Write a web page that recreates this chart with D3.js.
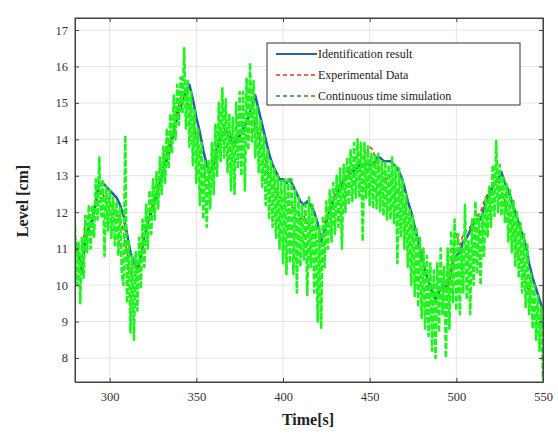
<!DOCTYPE html>
<html lang="en">
<head>
    <meta charset="UTF-8">
    <title>Level identification</title>
    <script src="https://d3js.org/d3.v7.min.js"></script>
    <style>
        body { margin: 0; background: #fff; }
        svg text { font-family: "Liberation Serif", "DejaVu Serif", serif; }
    </style>
</head>
<body>
    <div id="chart"></div>
    <script>
        // continuous time simulation, one sample per second from 280 s to 550 s
        const greenStart = 280;
        const greenLevel = [
            11.6, 10.0, 11.2, 9.5, 11.3, 10.2, 11.9, 10.9, 12.2, 11.0,
            12.2, 11.3, 12.9, 11.8, 13.5, 11.9, 12.9, 10.8, 12.7, 11.5,
            12.6, 11.3, 12.4, 11.1, 12.3, 10.8, 12.1, 10.3, 10.0, 14.1,
            9.5, 11.2, 8.7, 10.8, 8.5, 10.9, 9.3, 11.3, 9.9, 11.8,
            10.5, 12.2, 11.0, 12.6, 11.4, 12.9, 11.8, 13.1, 12.1, 13.5,
            12.5, 13.8, 12.8, 14.3, 13.2, 14.7, 13.6, 15.2, 14.0, 15.5,
            14.4, 15.7, 14.7, 16.5, 14.3, 15.6, 13.8, 15.3, 13.3, 14.8,
            12.8, 14.3, 12.2, 13.9, 11.8, 13.4, 11.6, 13.4, 12.1, 13.9,
            12.5, 14.4, 13.0, 15.0, 13.4, 15.4, 13.5, 15.1, 13.1, 14.7,
            12.6, 14.6, 12.5, 15.0, 13.2, 15.3, 13.0, 15.3, 12.6, 15.7,
            13.7, 16.1, 13.9, 15.6, 13.5, 14.9, 13.1, 14.5, 12.7, 14.1,
            12.2, 13.7, 11.8, 13.4, 11.6, 13.2, 11.3, 13.0, 11.0, 12.9,
            10.6, 12.9, 10.3, 12.9, 10.6, 12.9, 10.3, 12.6, 9.8, 12.4,
            10.5, 12.2, 10.7, 12.2, 9.7, 12.4, 10.5, 12.2, 9.8, 11.9,
            9.0, 11.6, 8.8, 11.9, 10.5, 12.3, 11.0, 12.6, 11.2, 12.8,
            11.4, 13.0, 11.6, 13.2, 11.0, 13.3, 12.0, 13.5, 12.2, 13.7,
            12.3, 13.9, 12.4, 14.0, 12.4, 13.9, 11.2, 13.9, 12.4, 13.8,
            12.2, 13.6, 12.1, 13.6, 12.1, 13.6, 12.0, 13.4, 11.9, 13.4,
            11.8, 13.3, 11.8, 13.5, 11.7, 13.3, 10.6, 13.2, 11.3, 12.9,
            11.0, 12.5, 10.5, 12.1, 10.0, 11.9, 9.7, 11.6, 9.4, 11.3,
            9.1, 11.0, 8.8, 10.8, 8.6, 10.6, 8.2, 10.4, 8.0, 10.6,
            8.7, 11.0, 9.2, 10.5, 8.0, 11.0, 8.8, 11.5, 9.5, 11.8,
            9.3, 11.4, 9.2, 11.0, 9.8, 12.2, 9.6, 11.2, 9.2, 11.8,
            10.0, 12.3, 10.3, 11.9, 10.0, 12.0, 10.8, 12.4, 11.3, 12.7,
            11.6, 13.3, 11.9, 13.95, 12.0, 13.3, 11.9, 13.0, 11.7, 12.8,
            11.2, 12.6, 10.9, 12.3, 10.5, 12.0, 10.2, 11.7, 9.8, 11.4,
            9.4, 11.1, 9.2, 10.3, 8.8, 10.0, 8.5, 9.7, 8.2, 9.4,
            7.4
        ];

        // identification result and experimental data, one sample every 2 s
        const sampleStart = 280;
        const sampleStep = 2;
        const identLevel = [
            11.2, 10.8, 10.4, 11.2, 11.6, 11.8, 12.3, 12.8, 12.8, 12.7,
            12.6, 12.5, 12.4, 12.2, 11.9, 11.4, 10.9, 10.6, 10.4, 10.8,
            11.3, 11.7, 12.0, 12.3, 12.6, 13.0, 13.3, 13.6, 14.0, 14.4,
            14.8, 15.0, 15.3, 15.5, 15.1, 14.6, 14.2, 13.7, 13.3, 13.1,
            13.3, 13.7, 14.0, 14.2, 14.2, 14.0, 13.9, 14.0, 14.2, 14.4,
            14.6, 14.9, 15.2, 14.8, 14.4, 14.0, 13.6, 13.3, 13.1, 12.9,
            12.9, 12.8, 12.9, 12.7, 12.5, 12.3, 12.2, 12.3, 12.2, 12.0,
            11.7, 11.2, 11.5, 11.9, 12.2, 12.4, 12.6, 12.8, 12.9, 13.0,
            13.1, 13.2, 13.3, 13.3, 13.3, 13.3, 13.3, 13.5, 13.5, 13.4,
            13.4, 13.4, 13.3, 13.2, 13.0, 12.7, 12.3, 12.0, 11.6, 11.2,
            10.8, 10.4, 10.1, 9.8, 9.6, 9.8, 10.0, 9.9, 10.2, 10.6,
            10.8, 10.9, 11.2, 11.3, 11.5, 11.7, 11.8, 11.8, 12.1, 12.4,
            12.6, 12.8, 12.9, 13.1, 12.8, 12.6, 12.3, 12.0, 11.7, 11.4,
            11.1, 10.6, 10.2, 9.9, 9.6, 9.3
        ];
        const expLevel = [
            11.0, 10.9, 10.6, 11.9, 11.8, 11.9, 12.2, 12.6, 12.5, 12.3,
            12.2, 12.2, 11.9, 11.9, 11.4, 10.9, 10.3, 10.2, 10.4, 10.9,
            11.4, 11.8, 12.1, 12.4, 12.8, 13.1, 13.5, 13.8, 14.2, 14.6,
            15.0, 15.3, 15.1, 14.9, 14.5, 14.1, 13.7, 13.2, 12.9, 13.1,
            13.5, 13.9, 14.2, 14.3, 14.0, 13.7, 13.8, 14.1, 14.0, 14.3,
            14.1, 14.0, 14.5, 14.1, 13.8, 13.4, 13.0, 12.8, 12.6, 12.4,
            12.3, 12.4, 12.2, 12.1, 12.0, 11.8, 11.9, 11.7, 11.6, 11.3,
            11.2, 11.3, 11.7, 12.0, 12.3, 12.5, 12.7, 12.9, 13.0, 13.1,
            13.2, 13.3, 13.4, 13.5, 13.6, 13.8, 13.7, 13.3, 13.2, 13.0,
            12.9, 12.9, 12.7, 12.6, 12.4, 12.1, 11.9, 11.6, 11.3, 11.0,
            10.7, 10.3, 10.0, 9.7, 9.8, 9.9, 9.8, 10.1, 9.8, 10.9,
            11.4, 11.1, 11.4, 11.5, 11.6, 11.8, 11.9, 12.0, 12.3, 12.5,
            12.7, 12.9, 12.8, 12.6, 12.3, 11.9, 11.6, 11.2, 10.8, 10.5,
            10.1, 9.8, 9.5, 9.3, 9.1, 8.9
        ];

        const xTicks = [300, 350, 400, 450, 500, 550];
        const yTicks = [8, 9, 10, 11, 12, 13, 14, 15, 16, 17];

        const legendItems = [
            { name: "Identification result", color: "#2a62a3", dash: null, width: 2.6 },
            { name: "Experimental Data", color: "#e8311d", dash: "4,3", width: 1.6 },
            { name: "Continuous time simulation", color: "#1df51d", dash: "6,2", width: 2.6 }
        ];

        const width = 558, height = 434;
        const plotLeft = 75, plotRight = 543, plotTop = 18, plotBottom = 382;

        const svg = d3.select("#chart")
            .append("svg")
            .attr("width", width)
            .attr("height", height);

        const x = d3.scaleLinear().domain([280, 550]).range([plotLeft, plotRight]);
        const y = d3.scaleLinear().domain([7.34, 17.33]).range([plotBottom, plotTop]);

        // grid
        const grid = svg.append("g").attr("stroke", "#e4e4e4").attr("stroke-width", 1);
        xTicks.forEach(t => {
            grid.append("line")
                .attr("x1", x(t)).attr("x2", x(t))
                .attr("y1", plotTop).attr("y2", plotBottom);
        });
        yTicks.forEach(t => {
            grid.append("line")
                .attr("x1", plotLeft).attr("x2", plotRight)
                .attr("y1", y(t)).attr("y2", y(t));
        });

        svg.append("defs").append("clipPath").attr("id", "plotClip")
            .append("rect")
            .attr("x", plotLeft).attr("y", plotTop)
            .attr("width", plotRight - plotLeft).attr("height", plotBottom - plotTop);

        const plot = svg.append("g").attr("clip-path", "url(#plotClip)");

        const line = d3.line()
            .x(d => x(d[0]))
            .y(d => y(d[1]));

        const identData = identLevel.map((v, i) => [sampleStart + i * sampleStep, v]);
        const expData = expLevel.map((v, i) => [sampleStart + i * sampleStep, v]);
        const greenData = greenLevel.map((v, i) => [greenStart + i, v]);

        [identData, expData, greenData].forEach((data, i) => {
            const item = legendItems[i];
            plot.append("path")
                .datum(data)
                .attr("fill", "none")
                .attr("stroke", item.color)
                .attr("stroke-width", item.width)
                .attr("stroke-dasharray", item.dash)
                .attr("stroke-linejoin", "round")
                .attr("d", line);
        });

        // axes: ticks point inward, box on all sides
        const axisColor = "#404040";
        const xAxis = svg.append("g")
            .attr("transform", `translate(0,${plotBottom})`)
            .call(d3.axisBottom(x).tickValues(xTicks).tickSizeInner(-4).tickSizeOuter(0).tickPadding(10));
        const xAxisTop = svg.append("g")
            .attr("transform", `translate(0,${plotTop})`)
            .call(d3.axisTop(x).tickValues(xTicks).tickSizeInner(-4).tickSizeOuter(0).tickFormat(""));
        const yAxis = svg.append("g")
            .attr("transform", `translate(${plotLeft},0)`)
            .call(d3.axisLeft(y).tickValues(yTicks).tickSizeInner(-4).tickSizeOuter(0).tickPadding(7));
        const yAxisRight = svg.append("g")
            .attr("transform", `translate(${plotRight},0)`)
            .call(d3.axisRight(y).tickValues(yTicks).tickSizeInner(-4).tickSizeOuter(0).tickFormat(""));

        [xAxis, xAxisTop, yAxis, yAxisRight].forEach(a => {
            a.selectAll("path").attr("stroke", axisColor);
            a.selectAll("line").attr("stroke", axisColor);
            a.selectAll("text")
                .attr("fill", "#333")
                .style("font-size", "12.5px")
                .style("font-family", "'Liberation Serif', serif");
        });

        svg.append("rect")
            .attr("x", plotLeft).attr("y", plotTop)
            .attr("width", plotRight - plotLeft).attr("height", plotBottom - plotTop)
            .attr("fill", "none")
            .attr("stroke", axisColor)
            .attr("stroke-width", 1);

        // axis labels
        svg.append("text")
            .attr("x", 308)
            .attr("y", 425)
            .attr("text-anchor", "middle")
            .attr("font-size", "16px")
            .attr("font-weight", "bold")
            .attr("fill", "#222")
            .text("Time[s]");

        svg.append("text")
            .attr("transform", "translate(28,201) rotate(-90)")
            .attr("text-anchor", "middle")
            .attr("font-size", "16px")
            .attr("font-weight", "bold")
            .attr("fill", "#222")
            .text("Level [cm]");

        // legend
        const legend = svg.append("g").attr("transform", "translate(267,43)");
        legend.append("rect")
            .attr("width", 253)
            .attr("height", 62)
            .attr("fill", "#fff")
            .attr("stroke", "#333")
            .attr("stroke-width", 1);

        const legendStyle = [
            { width: 2.2, dash: null },
            { width: 1.5, dash: "4,3" },
            { width: 1.3, dash: "4,3" }
        ];
        legendItems.forEach((item, i) => {
            const ly = 11 + i * 21;
            legend.append("line")
                .attr("x1", 9).attr("x2", 50)
                .attr("y1", ly).attr("y2", ly)
                .attr("stroke", i === 2 ? "#1a9a1a" : item.color)
                .attr("stroke-width", legendStyle[i].width)
                .attr("stroke-dasharray", legendStyle[i].dash);
            legend.append("text")
                .attr("x", 51)
                .attr("y", ly + 4)
                .attr("font-size", "12px")
                .attr("fill", "#222")
                .text(item.name);
        });
    </script>
</body>
</html>
